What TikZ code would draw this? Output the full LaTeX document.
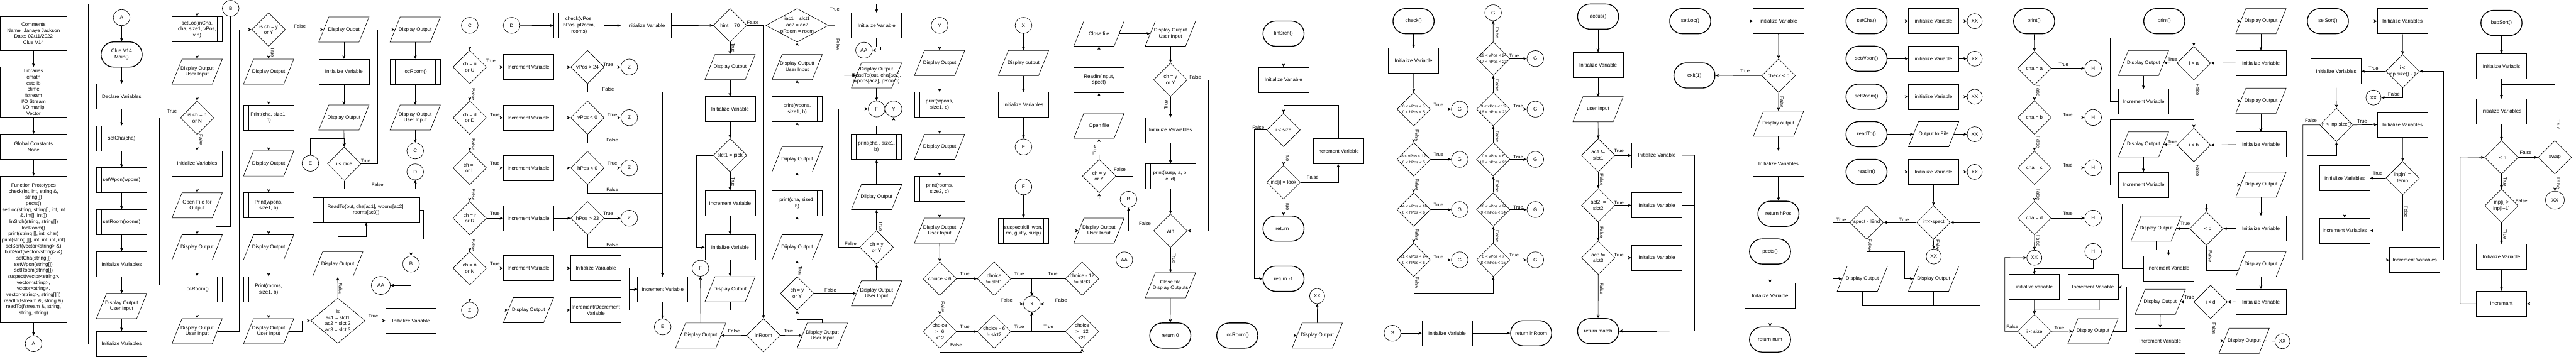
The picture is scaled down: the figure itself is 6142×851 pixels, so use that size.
\documentclass[tikz,border=0pt]{standalone}
\usepackage{fontspec}
\setmainfont{Liberation Sans}
\usetikzlibrary{shapes.geometric,shapes.misc,arrows.meta}
\newcommand\fs{\fontsize{12pt}{14.5pt}\selectfont}
\newcommand\lfs{\fontsize{11.5pt}{13pt}\selectfont}
\newcommand\sfs{\fontsize{9.5pt}{14.5pt}\selectfont}
\newcounter{labc}
\tikzset{
 base/.style={draw=black, line width=1pt, font=\fs, align=center, inner sep=1pt, text=black},
 box/.style={base, rectangle, minimum width=120pt, minimum height=60pt},
 sub/.style={box, path picture={\draw[line width=1pt] ([xshift=#1]path picture bounding box.north west) -- ([xshift=#1]path picture bounding box.south west) ([xshift=-#1]path picture bounding box.north east) -- ([xshift=-#1]path picture bounding box.south east);}},
 sub/.default=12pt,
 io/.style={base, trapezium, trapezium left angle=71.6, trapezium right angle=108.4, trapezium stretches=true, minimum width=120pt, minimum height=60pt},
 dia/.style={base, diamond, minimum width=80pt, minimum height=80pt, inner sep=0pt},
 term/.style={base, rounded rectangle, line width=2pt, minimum width=100pt, minimum height=60pt},
 conn/.style={base, ellipse, minimum width=40pt, minimum height=38pt, inner sep=0pt},
 xxs/.style={minimum width=36pt, minimum height=36pt},
 txt/.style={font=\fs, align=center, inner sep=0pt, text=black},
 txts/.style={txt, font=\sfs},
 lab/.style={font=\lfs, inner sep=0pt, text=black},
 arr/.style={draw=black, line width=1pt, -{Stealth[length=8pt,width=7pt,inset=2pt]}},
 ln/.style={draw=black, line width=1pt},
}
\newcommand\nBox[4][]{\node[box,#1] (#2) at (#3) {#4};}
\newcommand\nSub[4][]{\node[sub,#1] (#2) at (#3) {#4};}
\newcommand\nTerm[4][]{\node[term,#1] (#2) at (#3) {#4};}
\newcommand\nConn[4][]{\node[conn,#1] (#2) at (#3) {#4};}
\newcommand\nIo[4][]{\node[io,#1,label={[txt]center:{#4}}] (#2) at (#3) {};}
\newcommand\nDia[4][]{\node[dia,#1,label={[txt]center:{#4}}] (#2) at (#3) {};}
\newcommand\nDiaS[4][]{\node[dia,#1,label={[txts]center:{#4}}] (#2) at (#3) {};}
\newcommand\nLab[3][]{\stepcounter{labc}\edef\labname{lab\arabic{labc}}\node[lab,#1] (\labname) at (#2) {#3};}
\newcommand\nLabV[3][-90]{\stepcounter{labc}\edef\labname{lab\arabic{labc}}\node[lab,rotate=#1] (\labname) at (#2) {#3};}
\begin{document}
\begin{tikzpicture}[x=1pt,y=-1pt,label distance=0pt]
\fill[white] (0,0) rectangle (6142,851);
\useasboundingbox (0,0) rectangle (6142,851);
% ---------- column 1
\nBox[minimum width=160pt,minimum height=80pt]{cmt}{80,80}{Comments\\Name: Janaye Jackson\\Date: 02/11/2022\\Clue V14}
\nBox[minimum width=160pt,minimum height=120pt]{libs}{80,220}{Libraries\\cmath\\cstdlib\\ctime\\fstream\\I/O Stream\\I/O manip\\Vector}
\nBox[minimum width=160pt]{glob}{80,350}{Global Constants\\None}
\nBox[minimum width=160pt,minimum height=350pt]{proto}{80,595}{Function Prototypes\\check(int, int, string \&,\\string[])\\pects()\\setLoc(string, string[], int, int\\\&, int[], int[])\\linSrch(string, string[])\\locRoom()\\print(string [], int, char)\\print(string[][], int, int, int, int)\\selSort(vector<string> \&)\\bubSort(vector<string> \&)\\setCha(string[])\\setWpon(string[])\\setRoom(string[])\\suspect(vector<string>,\\vector<string>,\\vector<string>,\\vector<string>, string[][])\\readIn(fstream \&, string \&)\\readTo(fstream \&, string,\\string, string)}
\nConn{cA1}{80,820}{A}
\draw[arr] (cmt.south) -- (libs.north);
\draw[arr] (libs.south) -- (glob.north);
\draw[arr] (glob.south) -- (proto.north);
\draw[arr] (proto.south) -- (cA1.north);
% ---------- column 2
\nConn{cA2}{290,42}{A}
\nTerm{mainT}{290,130}{Clue V14\\Main()}
\nBox{decl}{290,230}{Declare Variables}
\nSub{sCha}{290,330}{setCha(cha)}
\nSub{sWpn}{290,430}{setWpon(wpons)}
\nSub{sRm}{290,530}{setRoom(rooms)}
\nBox{iv1}{290,630}{Initialize Variables}
\nIo{io1}{290,730}{Display Output\\User Input}
\nBox{iv2}{290,820}{Initialize Variables}
% ---------- column 3
\nSub{sLoc}{470,70}{setLoc(inCha,\\cha, size1, vPos,\\v h)}
\nIo{io2}{470,171}{Display Output\\User Input}
\nDia{d1}{470,281}{is ch = n\\or N}
\nBox{iv3}{470,390}{Initialize Variables}
\nIo{io3}{470,490}{Open File for\\Output}
\nIo{io4}{470,590}{Display Output}
\nSub{lr1}{470,690}{locRoom()}
\nIo{io5}{470,790}{Display Output\\User Input}
\nConn{cB1}{550,20}{B}
\draw[arr] (cA2.south) -- (mainT.north);
\draw[arr] (mainT.south) -- (decl.north);
\draw[arr] (decl.south) -- (sCha.north);
\draw[arr] (sCha.south) -- (sWpn.north);
\draw[arr] (sWpn.south) -- (sRm.north);
\draw[arr] (sRm.south) -- (iv1.north);
\draw[arr] (iv1.south) -- (io1.north);
\draw[arr] (io1.south) -- (iv2.north);
\draw[arr] (iv2.west) -| (210,10) -| (sLoc.north);
\draw[arr] (sLoc.south) -- (io2.north);
\draw[arr] (io2.south) -- (d1.north);
\draw[arr] (d1.south) -- (iv3.north);
\draw[arr] (d1.west) -| (380,680) -| (io1.north);
\draw[arr] (iv3.south) -- (io3.north);
\draw[arr] (io3.south) -- (io4.north);
\draw[ln] (cB1.south) |- (515,540) |- (470,555);
\draw[arr] (io4.south) -- (lr1.north);
\draw[arr] (lr1.south) -- (io5.north);
\nLab{410,266}{True}
\nLabV{479,334}{False}
% ---------- column 4
\nDia{d2}{640.5,70.5}{is ch = y\\or Y}
\nIo{io6}{640.5,171}{Display Output}
\nSub{pC1}{640.5,280.5}{Print(cha, size1,\\b)}
\nIo{io7}{640.5,390}{Display Output}
\nSub{pW1}{640.5,490}{Print(wpons,\\size1, b)}
\nIo{io8}{640.5,590}{Display Output}
\nSub{pR1}{640.5,690}{Print(rooms,\\size1, b)}
\nIo{io9}{640.5,790}{Display Output\\User Input}
\nDia[minimum width=130pt,minimum height=108pt]{d3}{805.5,765}{is\\ac1 = slct1\\ac2 = slct 2\\ac3 = slct 3}
\draw[arr] (io5.east) -| (570,70.5) -- (d2.west);
\draw[arr] (d2.south) -- (io6.north);
\draw[arr] (io6.south) -- (pC1.north);
\draw[arr] (pC1.south) -- (io7.north);
\draw[arr] (io7.south) -- (pW1.north);
\draw[arr] (pW1.south) -- (io8.north);
\draw[arr] (io8.south) -- (pR1.north);
\draw[arr] (pR1.south) -- (io9.north);
\draw[arr] (io9.east) -| (720.7,765) -- (d3.west);
\nLabV{650,125}{True}
% ---------- column 5/6
\nIo{io10}{820,70.5}{Display Ouput}
\nBox{iv4}{820,171}{Initialize Variable}
\nIo{io11}{820,280.5}{Display Output}
\nDia{dice}{820.7,390.7}{i < dice}
\nConn{cE1}{740,389.5}{E}
\nIo{io12}{990,70.5}{Display Output}
\nSub{lr2}{990,171}{locRoom()}
\nIo{io13}{990,280.5}{Display Output\\User Input}
\nConn{cC1}{990,360}{C}
\nConn{cD1}{990,410}{D}
\nIo{io14}{805.3,630.7}{Display Output}
\nSub[sub=26pt,minimum width=255pt]{rdTo}{873,500.6}{ReadTo(out, cha[ac1], wpons[ac2],\\rooms[ac3])}
\nConn{cB2}{980,630}{B}
\nBox{iv5}{980,765}{Initialize Variable}
\nConn[minimum width=45pt,minimum height=43pt]{cAA1}{908,681}{AA}
\draw[arr] (d2.east) -- (io10.west);
\draw[arr] (io10.south) -- (iv4.north);
\draw[arr] (iv4.south) -- (io11.north);
\draw[arr] (io11.south) -- (dice.north);
\draw[arr] (cE1.north) |- (820.7,330) -- (dice.north);
\draw[arr] (dice.east) -| (900.7,70.5) -- (io12.west);
\draw[arr] (dice.south) |- (990,450.5) -- (cD1.south);
\draw[arr] (io12.south) -- (lr2.north);
\draw[arr] (lr2.south) -- (io13.north);
\draw[arr] (io13.south) -- (cC1.north);
\draw[arr] (d3.north) -- (io14.south);
\draw[arr] (io14.north) |- (873,564.4) -- (rdTo.south);
\draw[arr] (rdTo.east) -| (1010,570) -| (cB2.north);
\draw[arr] (d3.east) -- (iv5.west);
\draw[arr] (iv5.north) |- (cAA1.east);
\nLab{715,63}{False}
\nLab{872,383}{True}
\nLab{900,440}{False}
\nLabV{812,689}{False}
\nLab{890,754}{True}
% ---------- column 7-9
\nConn{cC2}{1120,60.5}{C}
\nDia{dU}{1120,160}{ch = u\\or U}
\nDia{dD}{1120,280.7}{ch = d\\or D}
\nDia{dL}{1120,400.6}{ch = l\\or L}
\nDia{dR}{1120,520.6}{ch = r\\or R}
\nDia{dN}{1120,640}{ch = n\\or N}
\nConn{cZ1}{1120,740}{Z}
\nBox{iU}{1260,160}{Increment Variable}
\nBox{iD}{1260,280.7}{Increment Variable}
\nBox{iL}{1260,400.6}{Increment Variable}
\nBox{iR}{1260,520.6}{Increment Variable}
\nBox{iN}{1260,640}{Increment Variable}
\nConn{cD2}{1220,60.5}{D}
\nSub{chk}{1380.7,60.8}{check(vPos,\\hPos, pRoom,\\rooms)}
\nBox{iv6}{1540.7,60.8}{Initialize Variable}
\nDia{v24}{1400.7,160}{vPos > 24}
\nDia{v0}{1400.7,280.7}{vPos < 0}
\nDia{h0}{1400.7,400.6}{hPos < 0}
\nDia{h23}{1400.7,520.6}{hPos > 23}
\nConn{z1}{1500.3,160}{Z}
\nConn{z2}{1500.3,280.7}{Z}
\nConn{z3}{1500.3,400.6}{Z}
\nConn{z4}{1500.3,520.6}{Z}
\nBox{ivN}{1420.7,640}{Initialize Varaiable}
\nIo{io15}{1260,740}{Display Output}
\nBox{incdec}{1420.7,740}{Increment/Decrement\\Variable}
\nBox{incV}{1580,690}{Increment Variable}
\nConn{cE2}{1580,780}{E}
\draw[arr] (cC2.south) -- (dU.north);
\draw[arr] (dU.south) -- (dD.north);
\draw[arr] (dD.south) -- (dL.north);
\draw[arr] (dL.south) -- (dR.north);
\draw[arr] (dR.south) -- (dN.north);
\draw[arr] (dN.south) -- (cZ1.north);
\draw[arr] (dU.east) -- (iU.west);
\draw[arr] (dD.east) -- (iD.west);
\draw[arr] (dL.east) -- (iL.west);
\draw[arr] (dR.east) -- (iR.west);
\draw[arr] (dN.east) -- (iN.west);
\draw[arr] (iU.east) -- (v24.west);
\draw[arr] (iD.east) -- (v0.west);
\draw[arr] (iL.east) -- (h0.west);
\draw[arr] (iR.east) -- (h23.west);
\draw[arr] (iN.east) -- (ivN.west);
\draw[arr] (v24.east) -- (z1.west);
\draw[arr] (v0.east) -- (z2.west);
\draw[arr] (h0.east) -- (z3.west);
\draw[arr] (h23.east) -- (z4.west);
\draw[arr] (v24.south) |- (1580,219.8) -- (incV.north);
\draw[arr] (v0.south) |- (1580,340.3) -- (incV.north);
\draw[arr] (h0.south) |- (1580,460.2) -- (incV.north);
\draw[arr] (h23.south) |- (1580,590) -- (incV.north);
\draw[arr] (cZ1.east) -- (io15.west);
\draw[arr] (io15.east) -- (incdec.west);
\draw[arr] (ivN.east) -| (1500.3,690) -- (incV.west);
\draw[arr] (incdec.east) -| (1500.3,690) -- (incV.west);
\draw[arr] (incV.south) -- (cE2.north);
\draw[arr] (cD2.east) -- (chk.west);
\draw[arr] (chk.east) -- (iv6.west);
\nLabV{1129,225}{False}
\nLabV{1129,345}{False}
\nLabV{1129,465}{False}
\nLabV{1129,585}{False}
\nLab{1170,145}{True}
\nLab{1180,274}{True}
\nLab{1180,390}{True}
\nLab{1180,510}{True}
\nLab{1180,630}{True}
\nLab{1450,154}{True}
\nLab{1460,274}{True}
\nLab{1460,390}{True}
\nLab{1450,510}{True}
\nLab{1450,213}{False}
\nLab{1460,334}{False}
\nLab{1460,453}{False}
\nLab{1460,584}{False}
% ---------- column 10
\nDia{hint}{1740.7,60.5}{hint = 70}
\nIo{io16}{1740.7,160}{Display Output}
\nBox{iv7}{1740.7,260.5}{Initialize Variable}
\nDia{pick}{1740.7,370.4}{slct1 = pick}
\nBox{inc7}{1740.7,485}{Increment Variable}
\nBox{iv8}{1740.7,590}{Initialize Variable}
\nIo{io17}{1740.7,690}{Display Output}
\nConn{cF1}{1670,640}{F}
\nIo{io18}{1670.7,800.5}{Display Output}
\nDia{inRm}{1820.3,800}{inRoom}
\nIo{io19}{1960.7,800.5}{Display Output\\User Input}
\draw[arr] (iv6.east) -- (hint.west);
\draw[arr] (hint.south) -- (io16.north);
\draw[arr] (io16.south) -- (iv7.north);
\draw[arr] (iv7.south) -- (pick.north);
\draw[arr] (pick.south) -- (inc7.north);
\draw[arr] (inc7.south) -- (iv8.north);
\draw[arr] (pick.west) -| (1660.3,590) -- (iv8.west);
\draw[arr] (iv8.south) -- (io17.north);
\draw[arr] (io17.south) |- (1820.3,739.7) -- (inRm.north);
\draw[arr] (hint.east) -| (inRm.north);
\draw[arr] (inRm.west) -- (io18.east);
\draw[arr] (io18.north) -- (cF1.south);
\draw[arr] (inRm.east) -- (io19.west);
\nLabV{1748,114}{True}
\nLabV{1748,434}{True}
\nLab{1795,54}{False}
\nLab{1750,790}{False}
\nLab{1880,790}{True}
% ---------- column 11
\nDia{chy1}{1900.7,700}{ch = y\\or Y}
\nIo{io20}{1900.7,590}{Diiplay Output}
\nSub{pC2}{1900.7,485}{print(cha, size1,\\b)}
\nIo{io21}{1900.7,380}{Diiplay Output}
\nSub{pW2}{1900.7,260.5}{print(wpons,\\size1, b)}
\nIo{io22}{1900.7,160}{Display Outputt\\User Input}
\nDia[minimum width=149pt]{bd2}{1900.7,60.5}{iac1 = slct1\\ac2 = ac2\\pRoom = room}
\draw[arr] (io19.north) |- (1900.7,761.5) -- (chy1.south);
\draw[arr] (chy1.north) -- (io20.south);
\draw[arr] (io20.north) -- (pC2.south);
\draw[arr] (pC2.north) -- (io21.south);
\draw[arr] (io21.north) -- (pW2.south);
\draw[arr] (pW2.north) -- (io22.south);
\draw[arr] (io22.north) -- (bd2.south);
\nLabV{1908,646}{True}
% ---------- column 12
\nBox{iv9}{2090,60.8}{Initialize Variable}
\nConn{cAA2}{2060,119.7}{AA}
\nIo{io23}{2090,180}{Display Output\\ReadTo(out, cha[ac1],\\wpons[ac2], pRoom)}
\nConn{cF2}{2090,260}{F}
\nConn{cY1}{2130.7,260}{Y}
\nSub{pC3}{2090,350}{print(cha , size1,\\b)}
\nIo{io25}{2090,470}{Diiplay Output}
\nDia{chy2}{2090,590}{ch = y\\or Y}
\nIo{io24}{2090,700}{Display Output\\User Input}
\draw[arr] (bd2.north) |- (2090,9.8) -- (iv9.north);
\draw[arr] (bd2.east) -| (1990.7,179) -- (io23.west);
\draw[arr] (chy1.east) -- (io24.west);
\draw[arr] (iv9.south) |- (2100,111) |- (cAA2.east);
\draw[arr] (io23.south) -- (cF2.north);
\draw[arr] (io24.north) -- (chy2.south);
\draw[arr] (chy2.north) -- (io25.south);
\draw[arr] (io25.north) -- (pC3.south);
\draw[arr] (pC3.north) |- (2130.7,301) -- (cY1.south);
\draw[arr] (chy2.west) -| (2000,260) -- (cF2.west);
\nLab{1990,22}{True}
\nLabV{1998,106}{False}
\nLab{1980,692}{False}
\nLabV{2100,540}{True}
\nLab{2028,582}{False}
% ---------- column 13/14
\nConn{cY2}{2240.3,60.5}{Y}
\nIo{io26}{2240.3,150.3}{Display Output}
\nSub{pW3}{2240.3,250}{print(wpons,\\size1, c)}
\nIo{io27}{2240.3,350}{Display Output}
\nSub{pR3}{2240.3,450.5}{print(rooms,\\size2, d)}
\nIo{io28}{2240.3,550.4}{Display Output\\User Input}
\nDia{c6}{2240.7,665}{choice < 6}
\nDia{c612}{2240.7,791}{choice\\>=6\\<12}
\nDia{cs1}{2370.3,665}{choice\\!= slct1}
\nDia{cs2}{2370.3,791}{choice - 6\\!- slct2}
\nConn{cX1}{2460.3,725}{X}
\nDia{cs3}{2580,665}{choice - 12\\!= slct3}
\nDia{c1221}{2580,791}{choice\\>= 12\\<21}
\draw[arr] (cY2.south) -- (io26.north);
\draw[arr] (io26.south) -- (pW3.north);
\draw[arr] (pW3.south) -- (io27.north);
\draw[arr] (io27.south) -- (pR3.north);
\draw[arr] (pR3.south) -- (io28.north);
\draw[arr] (io28.south) -- (c6.north);
\draw[arr] (c6.south) -- (c612.north);
\draw[arr] (c6.east) -- (cs1.west);
\draw[arr] (c612.east) -- (cs2.west);
\draw[arr] (cs1.east) -| (cX1.north);
\draw[arr] (cs2.east) -| (cX1.south);
\draw[ln] (cs1.south) -- (cs2.north);
\draw[arr] (cs1.south) |- (cX1.west);
\draw[arr] (cs3.west) -| (cX1.north);
\draw[arr] (c1221.west) -| (cX1.south);
\draw[ln] (cs3.south) -- (c1221.north);
\draw[arr] (cs3.south) |- (cX1.east);
\draw[arr] (c612.south) |- (2580,840) -- (c1221.south);
\nLabV{2248,733}{False}
\nLab{2300,654}{True}
\nLab{2300,779}{True}
\nLab{2430,654}{True}
\nLab{2430,779}{True}
\nLab{2400,717}{False}
\nLab{2510,654}{True}
\nLab{2500,779}{True}
\nLab{2530,717}{False}
\nLab{2280,823}{False}
% ---------- column 15
\nConn{cX2}{2440.3,60.5}{X}
\nIo{io29}{2440.3,150.3}{Display output}
\nBox{iv10}{2440.3,250}{Initialize Variables}
\nConn{cF3}{2440.3,350.5}{F}
\nConn{cF4}{2440.3,445.6}{F}
\nSub{susp}{2440.3,550.4}{suspect(kill, wpn,\\rm, guilty, susp)}
\draw[arr] (cX2.south) -- (io29.north);
\draw[arr] (io29.south) -- (iv10.north);
\draw[arr] (iv10.south) -- (cF3.north);
\draw[arr] (cF4.south) -- (susp.north);
% ---------- column 16/17
\nIo{io30}{2620.3,550.4}{Display Output\\User Input}
\nDia{chy3}{2620.7,420}{ch = y\\or Y}
\nIo{io31}{2620.3,300}{Open file}
\nSub{rdIn}{2620.3,190.5}{ReadIn(input,\\spect)}
\nIo{io32}{2620.3,80.3}{Close file}
\nIo{io33}{2790.7,80.3}{Display Output\\User Input}
\nDia{chy4}{2790.7,190.3}{ch = y\\or Y}
\nBox{iv11}{2790.7,310.5}{Initialize Varaiables}
\nSub{pS}{2790.7,420.6}{print(susp, a, b,\\c, d)}
\nDia{win}{2790.7,550.5}{win}
\nConn{cB3}{2690.7,475.6}{B}
\nIo{io34}{2790.7,680.7}{Close file\\Display Outputs}
\nConn{cAA3}{2680.7,620}{AA}
\nTerm{ret0}{2790.3,800.5}{return 0}
\draw[arr] (susp.east) -- (io30.west);
\draw[arr] (io30.north) -- (chy3.south);
\draw[arr] (chy3.north) -- (io31.south);
\draw[arr] (io31.north) -- (rdIn.south);
\draw[arr] (rdIn.north) -- (io32.south);
\draw[arr] (chy3.east) -| (2700.7,80.3) -- (io33.west);
\draw[ln] (io32.east) -- (2700.7,80.3);
\draw[arr] (io33.south) -- (chy4.north);
\draw[arr] (chy4.south) -- (iv11.north);
\draw[arr] (iv11.south) -- (pS.north);
\draw[arr] (pS.south) -- (win.north);
\draw[arr] (chy4.east) -| (2880.7,550.5) -- (win.east);
\draw[arr] (win.west) -| (cB3.south);
\draw[arr] (win.south) -- (io34.north);
\draw[ln] (cAA3.east) -- (2790.7,620);
\draw[arr] (io34.south) -- (ret0.north);
\nLabV[90]{2610,358}{True}
\nLab{2670,404}{False}
\nLabV[90]{2780,250}{True}
\nLab{2850,184}{False}
\nLab{2730,534}{False}
\nLabV{2799,616}{True}
% ---------- linSrch / locRoom
\nTerm{lin}{3060.3,80.3}{linSrch()}
\nBox{iv12}{3060.3,190.5}{Initialize Variable}
\nDia{isz}{3060.3,310}{i < size}
\nDia{look}{3060.3,435}{inp[i] = look}
\nTerm{reti}{3060.3,545.4}{return i}
\nTerm{retm}{3060.3,665}{return -1}
\nBox{inc12}{3190.7,360.4}{increment Variable}
\nTerm{lr3}{2950,800.5}{locRoom()}
\nIo{io35}{3140.7,800.5}{Display Output}
\nConn[xxs]{xx1}{3140.5,706.3}{XX}
\draw[arr] (lin.south) -- (iv12.north);
\draw[arr] (iv12.south) -- (isz.north);
\draw[arr] (isz.south) -- (look.north);
\draw[arr] (look.south) -- (reti.north);
\draw[arr] (look.east) -| (inc12.south);
\draw[arr] (inc12.north) |- (3060.3,250.7) -- (isz.north);
\draw[arr] (isz.west) -| (2990.7,665) -- (retm.west);
\draw[arr] (lr3.east) -- (io35.west);
\draw[arr] (io35.north) -- (xx1.south);
\nLabV{3070,374}{True}
\nLabV{3070,490}{True}
\nLab{3130,423}{False}
\nLab{3000,304}{False}
% ---------- check()
\nTerm{chkT}{3370.3,50.5}{check()}
\nBox{iv13}{3370.3,145}{Initialize Variable}
\nDiaS{k1}{3370.7,260.5}{0 < vPos < 5\\0 < hPos < 5}
\nDiaS{k2}{3370.7,380.2}{8 < vPos < 12\\0 < hPos < 5}
\nDiaS{k3}{3370.7,500}{14 < vPos < 18\\0 < hPos < 6}
\nDiaS{k4}{3370.7,620}{21 < vPos < 24\\0 < hPos < 6}
\nConn{g1}{3480.3,260.5}{G}
\nConn{g2}{3480.3,380.2}{G}
\nConn{g3}{3480.3,500}{G}
\nConn{g4}{3480.3,620}{G}
\nDiaS{k5}{3560.3,620}{0 < vPos < 7\\8 < hPos < 15}
\nDiaS{k6}{3560.3,500}{18 < vPos < 24\\9 < hPos < 14}
\nDiaS{k7}{3560.3,380.2}{0 < vPos < 6\\18 < hPos < 23}
\nDiaS{k8}{3560.3,260.5}{9 < vPos < 15\\16 < hPos < 23}
\nDiaS{k9}{3560.3,139.7}{19 < vPos < 24\\17 < hPos < 23}
\nConn{g10}{3560,30.4}{G}
\nConn{g5}{3660.7,620}{G}
\nConn{g6}{3660.7,500}{G}
\nConn{g7}{3660.7,380.2}{G}
\nConn{g8}{3660.7,260.5}{G}
\nConn{g9}{3660.7,139.7}{G}
\nConn{gB}{3320,795}{G}
\nBox{iv14}{3450.3,795}{Initialize Variable}
\nTerm{retIn}{3650.7,795}{return inRoom}
\draw[arr] (chkT.south) -- (iv13.north);
\draw[arr] (iv13.south) -- (k1.north);
\draw[arr] (k1.south) -- (k2.north);
\draw[arr] (k2.south) -- (k3.north);
\draw[arr] (k3.south) -- (k4.north);
\draw[arr] (k1.east) -- (g1.west);
\draw[arr] (k2.east) -- (g2.west);
\draw[arr] (k3.east) -- (g3.west);
\draw[arr] (k4.east) -- (g4.west);
\draw[arr] (k4.south) |- (3560.3,700) -- (k5.south);
\draw[arr] (k5.north) -- (k6.south);
\draw[arr] (k6.north) -- (k7.south);
\draw[arr] (k7.north) -- (k8.south);
\draw[arr] (k8.north) -- (k9.south);
\draw[arr] (k9.north) -- (g10.south);
\draw[arr] (k5.east) -- (g5.west);
\draw[arr] (k6.east) -- (g6.west);
\draw[arr] (k7.east) -- (g7.west);
\draw[arr] (k8.east) -- (g8.west);
\draw[arr] (k9.east) -- (g9.west);
\draw[arr] (gB.east) -- (iv14.west);
\draw[arr] (iv14.east) -- (retIn.west);
\nLabV{3379,324}{False}
\nLabV{3379,440}{False}
\nLabV{3379,560}{False}
\nLabV{3379,675}{False}
\nLab{3430,250}{True}
\nLab{3430,369}{True}
\nLab{3430,488}{True}
\nLab{3430,613}{True}
\nLabV{3570,564}{False}
\nLabV{3570,445}{False}
\nLabV{3570,326}{False}
\nLabV{3570,204}{False}
\nLabV{3570,79}{False}
\nLab{3610,609}{True}
\nLab{3620,494}{True}
\nLab{3620,374}{True}
\nLab{3620,254}{True}
\nLab{3610,134}{True}
% ---------- accus()
\nTerm{acT}{3810.3,39.6}{accus()}
\nBox{iv15}{3810.3,154.7}{Initialize Variable}
\nIo{io36}{3810.3,260.5}{user Input}
\nDia{a1}{3810.7,370.4}{ac1 !=\\slct1}
\nDia{a2}{3810.7,489.8}{act2 !=\\slct2}
\nDia{a3}{3810.7,615}{ac3 !=\\slct3}
\nTerm{retM}{3810.3,790}{return match}
\nBox{ib1}{3950.3,370.4}{Initialize Variable}
\nBox{ib2}{3950.3,489.8}{Initalize Variable}
\nBox{ib3}{3950.3,615}{Initalize Variable}
\draw[arr] (acT.south) -- (iv15.north);
\draw[arr] (iv15.south) -- (io36.north);
\draw[arr] (io36.south) -- (a1.north);
\draw[arr] (a1.south) -- (a2.north);
\draw[arr] (a2.south) -- (a3.north);
\draw[arr] (a3.south) -- (retM.north);
\draw[arr] (a1.east) -- (ib1.west);
\draw[arr] (a2.east) -- (ib2.west);
\draw[arr] (a3.east) -- (ib3.west);
\draw[arr] (ib1.east) -| (4040.3,789.6) -- (retM.east);
\draw[ln] (ib2.east) -- (4040.3,489.8);
\draw[arr] (ib3.south) |- (retM.east);
\nLabV{3819,429}{False}
\nLabV{3819,554}{False}
\nLabV{3819,689}{False}
\nLab{3860,359}{True}
\nLab{3860,484}{True}
\nLab{3860,609}{True}
% ---------- setLoc(), pects()
\nTerm{slT}{4030,50.5}{setLoc()}
\nTerm{exT}{4040,180}{exit(1)}
\nBox{iv16}{4240.3,50.5}{initialize Variable}
\nDia{chk0}{4240.7,180.5}{check < 0}
\nIo{io37}{4240.3,295.2}{Display output}
\nBox{iv17}{4240.3,390.3}{Initialize Variables}
\nTerm{retH}{4240.3,510}{return hPos}
\nTerm{pectT}{4220.3,600}{pects()}
\nBox{iv18}{4220.3,705.5}{Initalize Variable}
\nTerm{retN}{4220.3,810}{return num}
\draw[arr] (slT.east) -- (iv16.west);
\draw[arr] (iv16.south) -- (chk0.north);
\draw[arr] (chk0.west) -- (exT.east);
\draw[arr] (chk0.south) -- (io37.north);
\draw[arr] (io37.south) -- (iv17.north);
\draw[arr] (iv17.south) -- (retH.north);
\draw[arr] (pectT.south) -- (iv18.north);
\draw[arr] (iv18.south) -- (retN.north);
\nLab{4160,170}{True}
\nLabV{4249,244}{False}
% ---------- setCha ... readIn
\nTerm{scT}{4450.3,50.5}{setCha()}
\nTerm{swT}{4450.3,140}{setWpon()}
\nTerm{srT}{4450.3,230.7}{setRoom()}
\nTerm{rtT}{4450.3,320.2}{readTo()}
\nTerm{riT}{4450.3,410}{readIn()}
\nBox{bs1}{4610.3,50.5}{initialize Variable}
\nBox{bs2}{4610.3,140}{initialize Variable}
\nBox{bs3}{4610.3,230.7}{initialize Variable}
\nIo{io38}{4610.3,320.2}{Output to File}
\nBox{bs5}{4610.3,410}{Initialize Variable}
\nConn[xxs]{xx2}{4708.3,50.5}{XX}
\nConn[xxs]{xx3}{4708.3,140}{XX}
\nConn[xxs]{xx4}{4708.3,230.7}{XX}
\nConn[xxs]{xx5}{4708.3,320.2}{XX}
\nConn[xxs]{xx6}{4708.3,410}{XX}
\nDia{spD}{4610,530.7}{in>\kern0pt>spect}
\nDia{splD}{4450.7,530.7}{spect - lEnd}
\nConn[xxs]{xx7}{4610.5,612}{XX}
\nIo{io39}{4610.3,665}{Display Output}
\nIo{io40}{4440.3,665}{Display Output}
\draw[arr] (scT.east) -- (bs1.west);
\draw[arr] (swT.east) -- (bs2.west);
\draw[arr] (srT.east) -- (bs3.west);
\draw[arr] (rtT.east) -- (io38.west);
\draw[arr] (riT.east) -- (bs5.west);
\draw[arr] (bs1.east) -- (xx2.west);
\draw[arr] (bs2.east) -- (xx3.west);
\draw[arr] (bs3.east) -- (xx4.west);
\draw[arr] (io38.east) -- (xx5.west);
\draw[arr] (bs5.east) -- (xx6.west);
\draw[arr] (bs5.south) -- (spD.north);
\draw[arr] (spD.west) -- (splD.east);
\draw[arr] (spD.south) -- (xx7.north);
\draw[arr] (splD.west) -| (4370.3,665) -- (io40.west);
\draw[arr] (splD.south) |- (4540.7,599.7) |- (io39.west);
\draw[arr] (io40.south) |- (4720.3,730) |- (spD.east);
\draw[ln] (io39.south) -- (4610.3,730);
\nLab{4540,524}{True}
\nLabV{4620,586}{False}
\nLab{4390,524}{True}
\nLabV{4458,585}{False}
% ---------- print() #1
\nTerm{prT1}{4850,50.5}{print()}
\nDia{ca}{4850.7,163}{cha = a}
\nDia{cb}{4850.7,280.3}{cha = b}
\nDia{cc}{4850.7,400.3}{cha = c}
\nDia{cd}{4850.7,520.4}{cha = d}
\nConn{h1}{4990.7,163}{H}
\nConn{h2}{4990.7,280.3}{H}
\nConn{h3}{4990.7,400.3}{H}
\nConn{h4}{4990.7,520.4}{H}
\nConn[xxs]{xx8}{4850.5,615}{XX}
\nConn{h5}{4990.7,600}{H}
\nBox{iv19}{4850.3,685}{initialixe variable}
\nBox{inc19}{4990.3,685}{Increment Variable}
\nDia{isz2}{4850.7,790.5}{i < size}
\nIo{io41}{4990.3,790}{Display Output}
\draw[arr] (prT1.south) -- (ca.north);
\draw[arr] (ca.south) -- (cb.north);
\draw[arr] (cb.south) -- (cc.north);
\draw[arr] (cc.south) -- (cd.north);
\draw[arr] (cd.south) -- (xx8.north);
\draw[arr] (ca.east) -- (h1.west);
\draw[arr] (cb.east) -- (h2.west);
\draw[arr] (cc.east) -- (h3.west);
\draw[arr] (cd.east) -- (h4.west);
\draw[arr] (h5.south) |- (4850.3,640.4) -- (iv19.north);
\draw[arr] (iv19.south) -- (isz2.north);
\draw[arr] ([xshift=15pt]inc19.south) |- (4850.3,739.7) -- (isz2.north);
\draw[arr] (isz2.east) -- (io41.west);
\draw[arr] (io41.east) -| (5070.3,685) -- (inc19.east);
\draw[arr] (isz2.west) -| (4780,614.4) -- (xx8.west);
\nLabV{4860,217}{False}
\nLabV{4860,339}{False}
\nLabV{4860,464}{False}
\nLabV{4860,575}{False}
\nLab{4920,155}{True}
\nLab{4930,274}{True}
\nLab{4930,394}{True}
\nLab{4930,510}{True}
\nLab{4910,783}{True}
\nLab{4798,779}{False}
% ---------- print() #2
\nTerm{prT2}{5160.3,50.5}{print()}
\nIo{io42}{5390.7,50.5}{Display Output}
\nBox{bi1}{5390.7,150.3}{Initialize Variable}
\nIo{io43}{5390.7,240.4}{Display Output}
\nBox{bi2}{5390.7,344.6}{Initialize Variable}
\nIo{io44}{5390.7,440.7}{Display Output}
\nBox{bi3}{5390.7,545.4}{Initialize Variable}
\nIo{io45}{5390.7,630.7}{Display Output}
\nBox{bi4}{5390.7,720.2}{Initialize Variable}
\nDia{ia}{5230.7,150.6}{i < a}
\nDia{ib}{5230.7,346}{i < b}
\nDia{ic}{5260.7,545.4}{i < c}
\nDia{id}{5270.7,720.4}{i < d}
\nIo{ioA}{5110.7,150.3}{Display Output}
\nBox{incA}{5110.7,242.6}{Increment Variable}
\nIo{ioB}{5110.7,344.6}{Display Output}
\nBox{incB}{5110.7,440.7}{Increment Variable}
\nIo{ioC}{5140.7,545.4}{Display Output}
\nBox{incC}{5170.3,640.4}{Increment Variable}
\nIo{ioD}{5150.7,720.2}{Display Output}
\nBox{incD}{5150.3,813}{Increment Variable}
\nIo{io46}{5350.7,813}{Display Output}
\nConn[xxs]{xx9}{5442,814}{XX}
\draw[arr] (prT2.east) -- (io42.west);
\draw[arr] (io42.south) -- (bi1.north);
\draw[arr] (bi1.west) -- (ia.east);
\draw[arr] (ia.south) |- (io43.west);
\draw[arr] (io43.south) -- (bi2.north);
\draw[arr] (bi2.west) -- (ib.east);
\draw[arr] (ib.south) |- (io44.west);
\draw[arr] (io44.south) -- (bi3.north);
\draw[arr] (bi3.west) -- (ic.east);
\draw[ln] (ic.south) |- (5336,644.7);
\draw[arr] (io45.south) -- (bi4.north);
\draw[arr] (bi4.west) -- (id.east);
\draw[arr] (id.south) |- (io46.west);
\draw[ln] (io46.east) -- (xx9.west);
\draw[arr] (ia.west) -- (ioA.east);
\draw[arr] (ioA.south) -- (incA.north);
\draw[arr] (incA.west) -| (5030.7,90.6) -| (ia.north);
\draw[arr] (ib.west) -- (ioB.east);
\draw[arr] (ioB.south) -- (incB.north);
\draw[arr] (incB.west) -| (5030.7,286) -| (ib.north);
\draw[arr] (ic.west) -- (ioC.east);
\draw[arr] (ioC.south) |- (5170.3,595.4) -- (incC.north);
\draw[arr] (incC.west) -| (5060,485.7) -| (ic.north);
\draw[arr] (id.west) -- (ioD.east);
\draw[arr] (ioD.south) -- (incD.north);
\nLabV{5240,214}{False}
\nLabV{5240,407}{False}
\nLabV{5270,612}{False}
\nLabV{5279,784}{False}
\nLab{5180,142}{True}
\nLab{5180,339}{True}
\nLab{5210,534}{True}
\nLab{5220,709}{True}
% ---------- selSort()
\nTerm{ssT}{5550.3,50.5}{selSort()}
\nBox{sv1}{5728.3,50.5}{Initialize Variables}
\nDia{si}{5728.5,170}{i <\\inp.size() - 1}
\nBox{sv2}{5570,170}{Initialize Variables}
\nConn[xxs]{sxx}{5659,232.8}{XX}
\nDia{sn}{5570.7,298}{n < inp.size()}
\nBox{sv3}{5728.3,297.4}{Initialize Variables}
\nDia{stmp}{5728.5,425}{inp[n] =\\temp}
\nBox{sv4}{5590.3,425}{Initialize Variables}
\nBox{sv5}{5590.3,550.4}{Increment Variables}
\nBox{sinc}{5757.5,620.3}{Increment Variables}
\draw[arr] (ssT.east) -- (sv1.west);
\draw[arr] (sv1.south) -- (si.north);
\draw[arr] (si.west) -- (sv2.east);
\draw[arr] (si.south) |- (sxx.east);
\draw[arr] (sv2.south) -- (sn.north);
\draw[arr] (sn.east) -- (sv3.west);
\draw[arr] (sn.west) -| (5490.7,619.8) -- (sinc.west);
\draw[arr] (sinc.east) -| (5826.7,170) -- (si.east);
\draw[arr] (sv3.south) -- (stmp.north);
\draw[arr] (stmp.west) -- (sv4.east);
\draw[arr] (stmp.south) |- (sv5.east);
\draw[arr] (sv4.south) -- (sv5.north);
\draw[arr] (sv5.west) -| (5500.7,370.7) -| (sn.south);
\nLab{5659,164}{True}
\nLab{5708,224}{False}
\nLab{5632,289}{True}
\nLab{5510,288}{False}
\nLab{5669,414}{True}
\nLabV{5737,505}{False}
% ---------- bubSort()
\nTerm{bbT}{5964.2,54.8}{bubSort()}
\nBox{bv1}{5964.2,157.9}{Initialize Variabls}
\nBox{bv2}{5964.2,265.4}{Initialize Variables}
\nDia{bin}{5964.2,375.3}{i < n}
\nDia{bcmp}{5964.2,490.9}{inp[i] >\\inp[i+1]}
\nBox{bv3}{5964.2,612.7}{Initialize Variable}
\nBox{binc}{5964.2,724.5}{Incremant}
\nDia{swap}{6091.5,375.3}{swap}
\nConn[minimum width=45pt,minimum height=43pt]{bxx}{6091.7,477.6}{XX}
\draw[arr] (bbT.south) -- (bv1.north);
\draw[arr] (bv1.south) -- (bv2.north);
\draw[arr] (swap.north) |- (5964.2,200.8) -- (bv2.north);
\draw[arr] (bv2.south) -- (bin.north);
\draw[arr] (bin.east) -- (swap.west);
\draw[arr] (swap.south) -- (bxx.north);
\draw[arr] (bin.south) -- (bcmp.north);
\draw[arr] (bcmp.south) -- (bv3.north);
\draw[arr] (bcmp.east) -| (6042.7,724.5) -- (binc.east);
\draw[arr] (bv3.south) -- (binc.north);
\draw[arr] (binc.west) -| (5865.7,374.5) -- (bin.west);
\nLabV{6100,298}{True}
\nLab{6022,364}{False}
\nLabV{6100,437}{False}
\nLabV{5973,434}{True}
\nLabV{5973,559}{True}
\nLab{6012,479}{False}
\end{tikzpicture}
\end{document}
